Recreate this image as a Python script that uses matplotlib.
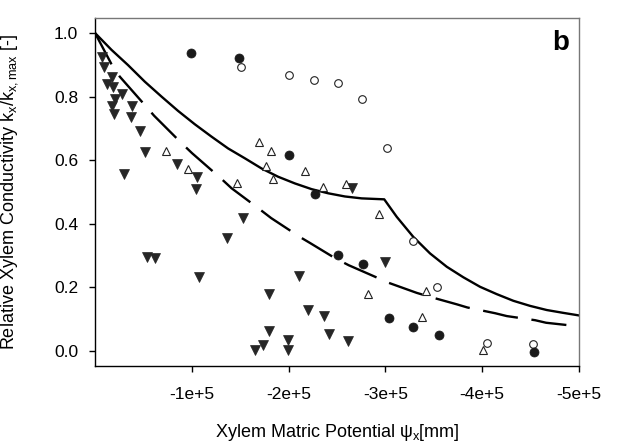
import matplotlib
matplotlib.use('Agg')
import matplotlib.pyplot as plt

plt.rcParams['font.family'] = ['Liberation Sans', 'DejaVu Sans']
plt.rcParams['mathtext.fontset'] = 'custom'
plt.rcParams['mathtext.rm'] = 'Liberation Sans'

# model curves
psi_solid = [0, -0.170e5, -0.341e5, -0.514e5, -0.687e5, -0.858e5, -1.031e5, -1.204e5,
             -1.375e5, -1.548e5, -1.721e5, -1.892e5, -2.065e5, -2.238e5, -2.409e5,
             -2.582e5, -2.755e5, -2.988e5, -3.117e5, -3.288e5, -3.461e5, -3.634e5,
             -3.805e5, -3.978e5, -4.150e5, -4.322e5, -4.495e5, -4.667e5, -4.839e5, -5.0e5]
k_solid = [1.0, 0.947, 0.899, 0.847, 0.800, 0.755, 0.713, 0.674,
           0.637, 0.606, 0.574, 0.548, 0.527, 0.509, 0.496,
           0.486, 0.480, 0.477, 0.422, 0.359, 0.307, 0.265,
           0.232, 0.202, 0.179, 0.158, 0.142, 0.129, 0.120, 0.112]

psi_dash = [0, -0.170e5, -0.255e5, -0.507e5, -0.610e5, -0.886e5, -1.003e5, -1.300e5,
            -1.410e5, -1.696e5, -1.82e5, -2.12e5, -2.22e5, -2.48e5, -2.62e5, -2.92e5,
            -3.03e5, -3.323e5, -3.454e5, -3.737e5, -3.847e5, -4.133e5, -4.254e5,
            -4.547e5, -4.66e5, -4.96e5]
k_dash = [1.0, 0.902, 0.863, 0.776, 0.740, 0.656, 0.622, 0.543,
          0.512, 0.447, 0.418, 0.358, 0.34, 0.292, 0.27, 0.23,
          0.215, 0.183, 0.171, 0.147, 0.137, 0.119, 0.110,
          0.097, 0.089, 0.079]

# measured data
fc_x = [-0.99e5, -1.49e5, -2.00e5, -2.27e5, -2.51e5, -2.77e5, -3.04e5, -3.29e5, -3.55e5, -4.54e5]
fc_y = [0.937, 0.922, 0.616, 0.494, 0.302, 0.274, 0.104, 0.075, 0.05, -0.003]

oc_x = [-1.51e5, -2.00e5, -2.26e5, -2.51e5, -2.76e5, -3.02e5, -3.28e5, -3.53e5, -4.05e5, -4.53e5]
oc_y = [0.893, 0.868, 0.852, 0.843, 0.792, 0.638, 0.346, 0.201, 0.025, 0.022]

ot_x = [-0.73e5, -0.96e5, -1.47e5, -1.69e5, -1.82e5, -1.77e5, -1.84e5, -2.17e5,
        -2.36e5, -2.59e5, -2.93e5, -2.82e5, -3.42e5, -3.38e5, -4.01e5]
ot_y = [0.629, 0.572, 0.528, 0.657, 0.629, 0.582, 0.541, 0.566,
        0.516, 0.525, 0.431, 0.179, 0.189, 0.107, 0.003]

ft_x = [-0.07e5, -0.09e5, -0.18e5, -0.12e5, -0.19e5, -0.28e5, -0.21e5, -0.18e5,
        -0.38e5, -0.20e5, -0.37e5, -0.46e5, -0.52e5, -0.30e5, -0.85e5, -1.05e5,
        -1.04e5, -1.53e5, -1.36e5, -0.54e5, -0.62e5, -1.07e5, -1.65e5, -1.74e5,
        -1.80e5, -1.80e5, -1.99e5, -1.99e5, -2.11e5, -2.20e5, -2.37e5, -2.42e5,
        -2.61e5, -3.00e5, -2.66e5]
ft_y = [0.925, 0.893, 0.862, 0.84, 0.83, 0.808, 0.792, 0.77,
        0.77, 0.745, 0.736, 0.692, 0.626, 0.557, 0.588, 0.547,
        0.509, 0.418, 0.355, 0.296, 0.292, 0.233, 0.003, 0.019,
        0.063, 0.179, 0.035, 0.003, 0.236, 0.129, 0.11, 0.053,
        0.031, 0.28, 0.513]

xticks = [-1e5, -2e5, -3e5, -4e5, -5e5]
xticklabels = ['-1e+5', '-2e+5', '-3e+5', '-4e+5', '-5e+5']
yticks = [0.0, 0.2, 0.4, 0.6, 0.8, 1.0]
yticklabels = ['0.0', '0.2', '0.4', '0.6', '0.8', '1.0']

fig = plt.figure(figsize=(6.17, 4.45), dpi=100)
ax = fig.add_axes([0.154, 0.1775, 0.7844, 0.782])

ax.plot(psi_solid, k_solid, color='black', lw=1.7, solid_joinstyle='round')
ax.plot(psi_dash, k_dash, color='black', lw=1.7, dashes=(15, 5.8))

ax.plot(ft_x, ft_y, 'v', ms=6.8, mfc='#262626', mec='#262626', mew=0.5, ls='none')
ax.plot(ot_x, ot_y, '^', ms=5.5, mfc='white', mec='#222222', mew=0.8, ls='none')
ax.plot(oc_x, oc_y, 'o', ms=5.5, mfc='white', mec='#222222', mew=0.8, ls='none')
ax.plot(fc_x, fc_y, 'o', ms=6.5, mfc='#1a1a1a', mec='#1a1a1a', mew=0.5, ls='none')

ax.set_xlim(0, -5e5)
ax.set_ylim(-0.047, 1.047)
ax.set_xticks(xticks)
ax.set_xticklabels(xticklabels)
ax.set_yticks(yticks)
ax.set_yticklabels(yticklabels)
ax.tick_params(axis='both', direction='out', length=4, width=1, labelsize=12.5,
               colors='black')
ax.tick_params(axis='x', pad=11)
ax.tick_params(axis='y', pad=8)

for s in ['left', 'bottom']:
    ax.spines[s].set_color('black')
    ax.spines[s].set_linewidth(1.0)
for s in ['top', 'right']:
    ax.spines[s].set_color('#777777')
    ax.spines[s].set_linewidth(1.0)

ax.set_xlabel('Xylem Matric Potential ψ$_\\mathregular{x}$[mm]', fontsize=13)
ax.set_ylabel(r'Relative Xylem Conductivity k$_\mathregular{x}$/k$_\mathregular{x,max}$ [-]',
              fontsize=13)
ax.xaxis.set_label_coords(0.5, -0.16)
ax.yaxis.set_label_coords(-0.155, 0.5)

ax.text(0.98, 0.965, 'b', transform=ax.transAxes, ha='right', va='top',
        fontsize=20, fontweight='bold')

fig.savefig('out.png', dpi=100)
